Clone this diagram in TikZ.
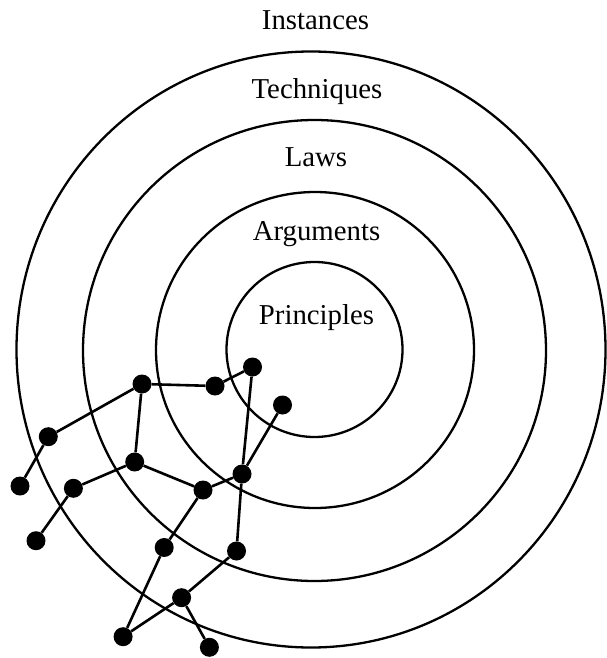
\documentclass[tikz,border=0pt]{standalone}
\usepackage{fontspec}
\setmainfont{Liberation Serif}
\begin{document}
\begin{tikzpicture}[x=1pt,y=-1pt,
  ring/.style={line width=2.3pt},
  dot/.style={circle,fill=black,inner sep=0pt,minimum size=19pt},
  edge/.style={line width=2.6pt},
  lab/.style={anchor=base,inner sep=0pt,font=\fontsize{28.8}{34}\selectfont}]
\useasboundingbox (0,0) rectangle (607,658);
% rings
\draw[ring] (311,349.5) ellipse [x radius=294.5, y radius=298];
\draw[ring] (314.5,350.5) ellipse [x radius=231.5, y radius=230.5];
\draw[ring] (315,350) ellipse [x radius=159, y radius=158];
\draw[ring] (314.5,349.5) ellipse [x radius=88, y radius=87.5];
% labels
\node[lab] (inst) at (315.5,29.3) {Instances};
\node[lab] (tech) at (317,98.3) {Techniques};
\node[lab] (laws) at (316,166.7) {Laws};
\node[lab] (args) at (316.5,240.7) {Arguments};
\node[lab] (prin) at (316.5,324) {Principles};
% dots
\node[dot] (A) at (252.5,367) {};
\node[dot] (B) at (215,386) {};
\node[dot] (C) at (142,384) {};
\node[dot] (D) at (282.5,405) {};
\node[dot] (E) at (48.3,436.7) {};
\node[dot] (F) at (134.7,462) {};
\node[dot] (G) at (242,474) {};
\node[dot] (H) at (20,486) {};
\node[dot] (I) at (73.4,488.3) {};
\node[dot] (J) at (203,490) {};
\node[dot] (K) at (36,540.7) {};
\node[dot] (L) at (164.2,547.5) {};
\node[dot] (M) at (236.5,551) {};
\node[dot] (N) at (181.6,597.7) {};
\node[dot] (O) at (123.1,636.7) {};
\node[dot] (P) at (209.4,647.3) {};
% edges
\draw[edge] (A) -- (B);
\draw[edge] (B) -- (C);
\draw[edge] (C) -- (E);
\draw[edge] (E) -- (H);
\draw[edge] (C) -- (F);
\draw[edge] (F) -- (I);
\draw[edge] (I) -- (K);
\draw[edge] (F) -- (J);
\draw[edge] (J) -- (G);
\draw[edge] (A) -- (G);
\draw[edge] (D) -- (G);
\draw[edge] (G) -- (M);
\draw[edge] (J) -- (L);
\draw[edge] (L) -- (O);
\draw[edge] (O) -- (N);
\draw[edge] (N) -- (M);
\draw[edge] (N) -- (P);
\end{tikzpicture}
\end{document}
